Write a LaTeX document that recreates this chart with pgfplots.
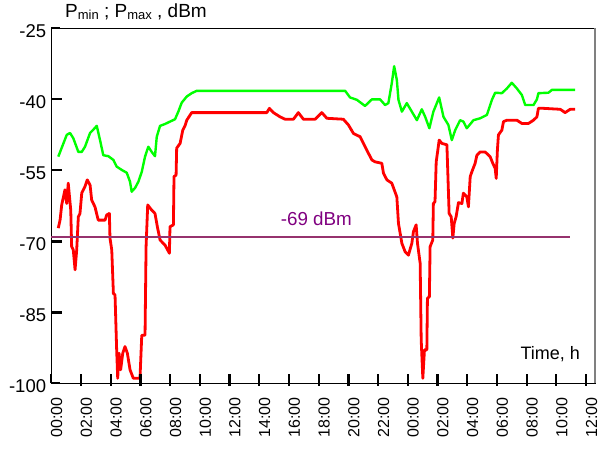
\documentclass[border=0pt]{standalone}
\usepackage{fontspec}
\setmainfont{Liberation Sans}
\usepackage{pgfplots}
\pgfplotsset{compat=1.18}
\definecolor{pgreen}{RGB}{0,255,0}
\definecolor{pred}{RGB}{255,0,0}
\definecolor{pline}{RGB}{150,50,110}
\definecolor{ptext}{RGB}{128,0,128}
\definecolor{bordergray}{RGB}{128,128,128}

\begin{document}
\begin{tikzpicture}
\begin{axis}[
    at={(51.3pt,70.5pt)}, anchor=south west,
    scale only axis, width=543.7pt, height=355.2pt,
    xmin=0, xmax=36.6, ymin=-100, ymax=-25,
    axis line style={line width=1pt, black},
    tick align=inside,
    xtick pos=left, ytick pos=left,
    major tick length=9pt,
    tick style={black, line width=2pt},
    xtick={0,2,...,36},
    xticklabels={00:00,02:00,04:00,06:00,08:00,10:00,12:00,14:00,16:00,18:00,20:00,22:00,00:00,02:00,04:00,06:00,08:00,10:00,12:00},
    ytick={-100,-85,-70,-55,-40,-25},
    /pgf/number format/assume math mode=true,
    xticklabel style={font=\fontsize{16}{18}\selectfont, inner sep=0pt, xshift=5.4pt, rotate=90, anchor=east},
    xticklabel shift=14pt,
    yticklabel style={font=\fontsize{18.5}{20}\selectfont, inner sep=0pt, yshift=-3pt},
    yticklabel shift=5pt,
    clip=false,
]
% Pmax
\addplot[pgreen, line width=2.4pt, line join=round] coordinates {
(0.47,-52.1) (1.04,-47.5) (1.26,-47.1) (1.48,-48.2) (1.82,-51.1) (2.05,-51.1)
(2.27,-50.0) (2.61,-47.1) (2.83,-46.4) (3.06,-45.6) (3.28,-48.6) (3.50,-51.8)
(3.84,-52.0) (4.18,-52.8) (4.40,-54.2) (4.74,-54.9) (5.08,-55.5) (5.30,-57.4)
(5.41,-59.5) (5.64,-58.7) (5.86,-57.4) (6.09,-55.3) (6.31,-52.1) (6.53,-50.0)
(6.76,-51.1) (6.98,-52.0) (7.10,-47.9) (7.32,-45.6) (7.66,-45.2) (7.99,-44.7)
(8.33,-44.2) (8.55,-42.6) (8.78,-40.7) (9.12,-39.4) (9.45,-38.7) (9.79,-38.2)
(19.78,-38.2) (20.11,-39.6) (20.57,-40.1) (21.12,-41.4) (21.58,-40.0) (22.13,-40.0)
(22.47,-41.2) (22.69,-40.8) (22.92,-36.6) (23.08,-33.0) (23.26,-35.9) (23.37,-40.1)
(23.60,-42.6) (23.93,-40.8) (24.27,-42.6) (24.61,-44.4) (24.94,-42.1) (25.17,-43.7)
(25.45,-46.1) (25.72,-42.6) (26.11,-39.6) (26.40,-43.7) (26.73,-45.4) (26.96,-48.6)
(27.19,-46.5) (27.52,-44.4) (27.74,-44.7) (27.97,-46.1) (28.42,-44.4) (28.87,-44.0)
(29.32,-43.3) (29.66,-40.1) (29.88,-38.6) (30.33,-38.7) (30.67,-37.7) (31.00,-36.5)
(31.34,-37.7) (31.68,-39.1) (31.90,-41.2) (32.46,-41.2) (32.69,-40.0) (32.79,-38.7)
(33.47,-38.6) (33.70,-38.0) (35.27,-38.0)
};
% Pmin
\addplot[pred, line width=2.8pt, line join=round] coordinates {
(0.47,-67.2) (0.59,-65.5) (0.70,-62.3) (0.92,-59.1) (1.04,-62.0) (1.14,-57.7)
(1.31,-63.4) (1.37,-71.1) (1.48,-71.8) (1.60,-76.0) (1.71,-71.8) (1.82,-64.8)
(1.93,-64.1) (2.05,-59.8) (2.27,-58.4) (2.42,-57.0) (2.61,-58.1) (2.72,-61.3)
(2.94,-62.7) (3.16,-65.5) (3.62,-65.5) (3.73,-64.4) (3.91,-64.1) (3.95,-69.3)
(4.07,-71.8) (4.18,-81.0) (4.29,-81.3) (4.40,-92.9) (4.47,-98.9) (4.56,-93.6)
(4.67,-97.1) (4.81,-93.6) (4.96,-92.2) (5.12,-93.6) (5.30,-97.1) (5.52,-98.9)
(5.97,-98.9) (6.09,-89.8) (6.31,-89.8) (6.38,-71.1) (6.49,-62.3) (6.76,-63.4)
(6.98,-64.1) (7.14,-66.9) (7.32,-69.7) (7.66,-70.8) (7.95,-72.5) (7.99,-66.9)
(8.22,-66.5) (8.26,-56.3) (8.40,-56.0) (8.44,-50.3) (8.67,-49.3) (8.85,-46.5)
(9.00,-45.6) (9.12,-44.4) (9.45,-42.8) (14.51,-42.8) (14.68,-41.9) (14.95,-42.8)
(15.40,-43.7) (15.74,-44.2) (16.30,-44.2) (16.63,-42.8) (16.97,-44.2) (17.76,-44.2)
(18.21,-42.8) (18.55,-44.0) (19.66,-44.2) (20.00,-45.4) (20.34,-47.2) (20.79,-47.9)
(21.12,-50.0) (21.58,-52.8) (21.80,-53.2) (22.25,-53.5) (22.36,-55.6) (22.59,-57.0)
(22.92,-57.7) (23.26,-60.6) (23.37,-66.2) (23.60,-70.4) (23.82,-72.2) (24.04,-72.9)
(24.27,-70.4) (24.38,-67.9) (24.56,-66.5) (24.65,-70.4) (24.83,-74.6) (24.90,-90.8)
(25.01,-98.9) (25.12,-92.9) (25.28,-92.9) (25.32,-82.0) (25.45,-81.7) (25.50,-71.1)
(25.68,-69.7) (25.72,-62.0) (25.83,-61.6) (25.91,-53.2) (26.02,-50.7) (26.11,-48.6)
(26.29,-49.3) (26.63,-49.6) (26.69,-55.3) (26.78,-64.1) (26.92,-64.8) (27.03,-69.3)
(27.12,-66.2) (27.25,-64.8) (27.41,-61.8) (27.64,-62.0) (27.74,-59.8) (27.97,-60.6)
(28.08,-62.7) (28.20,-56.3) (28.31,-55.3) (28.53,-53.5) (28.65,-51.8) (28.87,-51.1)
(29.20,-51.1) (29.54,-52.1) (29.72,-53.5) (29.88,-54.6) (29.95,-56.7) (30.03,-50.7)
(30.10,-47.5) (30.33,-46.5) (30.44,-44.7) (30.67,-44.4) (31.34,-44.4) (31.68,-45.1)
(32.12,-45.1) (32.46,-44.4) (32.69,-43.7) (32.79,-41.9) (33.13,-41.9) (34.26,-42.1)
(34.59,-42.8) (34.93,-42.1) (35.27,-42.1)
};
% threshold
\addplot[pline, line width=2pt] coordinates {(0,-69) (34.9,-69)};
% tick marks as short segments in data units
\pgfplotsinvokeforeach{2,4,6,8,10,12,14,16,18,20,22,24,26,28,30,32,34,36}{
  \addplot[black, line width=2.2pt, forget plot] coordinates {(#1,-100.5) (#1,-97.9)};
}
\pgfplotsinvokeforeach{-85,-70,-55,-40}{
  \addplot[black, line width=2.2pt, forget plot] coordinates {(0,#1) (0.7,#1)};
}
\node[ptext, anchor=base, inner sep=0pt, font=\fontsize{18.8}{20}\selectfont] at (axis cs:17.84,-66.7) {-69 dBm};
\node[black, anchor=base east, inner sep=0pt, font=\fontsize{18}{20}\selectfont] at (axis cs:35.6,-94.9) {Time, h};
\end{axis}
\draw[bordergray, line width=2pt] (595pt,70.5pt) -- (595pt,425.7pt);
\node[anchor=base west, inner sep=0pt, font=\fontsize{19}{20}\selectfont] at (65pt,436.7pt)
  {P\raisebox{-2.7pt}{\fontsize{13}{13}\selectfont min} ; P\raisebox{-2.7pt}{\fontsize{13}{13}\selectfont max} , dBm};
\path[use as bounding box] (0pt,0pt) rectangle (602pt,454pt);
\end{tikzpicture}
\end{document}
